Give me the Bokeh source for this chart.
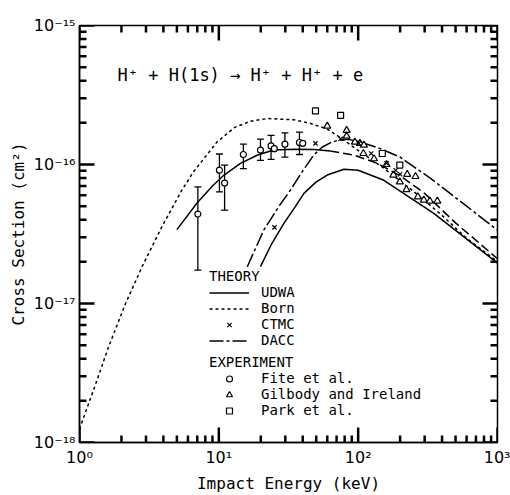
import math
from bokeh.plotting import figure
from bokeh.models import (FixedTicker, CustomJSTickFormatter, Legend,
                          LegendItem, Label)
from bokeh.embed import file_html
from bokeh.resources import INLINE

# ---------------- data ----------------
born_E = [1.0, 1.3, 1.62, 2.14, 2.82, 3.92, 5.46, 6.6, 9.7, 13, 16.9, 22.3, 34.5, 45,
          60, 79, 98, 122, 153, 250, 390, 600, 1000]
born_S = [1.25e-18, 2.6e-18, 4.9e-18, 1.0e-17, 1.85e-17, 3.6e-17, 6.6e-17, 8.9e-17,
          1.45e-16, 1.85e-16, 2.05e-16, 2.14e-16, 2.1e-16, 1.98e-16, 1.8e-16, 1.5e-16,
          1.28e-16, 1.1e-16, 9.4e-17, 6.4e-17, 4.4e-17, 2.95e-17, 2.0e-17]

# curve through the Fite data: solid part (low E) and dashed continuation (high E)
curveA_lo_E = [5.0, 7.0, 9.0, 10.9, 14.3, 19, 24.8, 35, 48, 63]
curveA_lo_S = [3.4e-17, 5.3e-17, 7.0e-17, 8.4e-17, 1.02e-16, 1.17e-16, 1.27e-16,
               1.29e-16, 1.28e-16, 1.25e-16]
curveA_hi_E = [63, 93, 137, 200, 300, 500, 1000]
curveA_hi_S = [1.25e-16, 1.17e-16, 1.02e-16, 8.3e-17, 6.2e-17, 3.8e-17, 2.1e-17]

dacc_E = [16, 21, 27, 32.7, 40, 48, 55, 63, 71, 84, 100, 116, 144, 200, 331, 607, 1000]
dacc_S = [1.84e-17, 3.37e-17, 5.0e-17, 6.55e-17, 9.0e-17, 1.17e-16, 1.33e-16, 1.43e-16,
          1.49e-16, 1.52e-16, 1.47e-16, 1.40e-16, 1.30e-16, 1.13e-16, 7.94e-17,
          4.97e-17, 3.37e-17]

udwa_E = [19.9, 24, 29.3, 35, 40.8, 50, 60, 79, 100, 153, 349, 1000]
udwa_S = [1.84e-17, 2.7e-17, 3.77e-17, 4.9e-17, 6.2e-17, 7.5e-17, 8.4e-17, 9.25e-17,
          9.1e-17, 7.7e-17, 4.45e-17, 1.95e-17]

ctmc_E = [25.1, 49.4, 74.8, 101, 124, 160, 186, 200]
ctmc_S = [3.53e-17, 1.42e-16, 1.53e-16, 1.42e-16, 1.2e-16, 1.02e-16, 9.1e-17, 8.5e-17]

nan = float("nan")
fite_E = [7.07, 10.1, 11.0, 15.0, 19.9, 23.7, 25.0, 29.8, 37.9, 40.0]
fite_S = [4.4e-17, 9.1e-17, 7.35e-17, 1.18e-16, 1.27e-16, 1.36e-16, 1.30e-16,
          1.40e-16, 1.44e-16, 1.42e-16]
fite_hi = [6.9e-17, 1.19e-16, 9.9e-17, 1.40e-16, 1.52e-16, 1.62e-16, nan,
           1.69e-16, 1.71e-16, nan]
fite_lo = [1.74e-17, 6.35e-17, 4.7e-17, 9.35e-17, 1.07e-16, 1.09e-16, nan,
           1.13e-16, 1.18e-16, nan]

gil_E = [60, 82.6, 82.6, 94.7, 103, 110, 109, 130, 160, 179, 199, 225, 258, 222,
         268, 296, 327, 370]
gil_S = [1.89e-16, 1.76e-16, 1.6e-16, 1.45e-16, 1.42e-16, 1.38e-16, 1.2e-16, 1.10e-16,
         1.0e-16, 8.4e-17, 7.5e-17, 8.5e-17, 8.2e-17, 6.6e-17, 5.86e-17, 5.55e-17,
         5.46e-17, 5.46e-17]

park_E = [49.4, 74.8, 149, 199]
park_S = [2.43e-16, 2.26e-16, 1.2e-16, 9.9e-17]

x_major = [1.0, 10.0, 100.0, 1000.0]
y_major = [1e-18, 1e-17, 1e-16, 1e-15]

reaction = "H\u207a + H(1s) \u2192 H\u207a + H\u207a + e"
x_label = "Impact Energy (keV)"
y_label = "Cross Section (cm\u00b2)"

# ---------------- figure ----------------
LABEL_FONT = "DejaVu Sans Mono"
TICK_FONT = "DejaVu Sans"
X_MIN, X_MAX = x_major[0], x_major[-1]
Y_MIN, Y_MAX = y_major[0], y_major[-1]

p = figure(width=510, height=495, x_axis_type="log", y_axis_type="log",
           x_range=(X_MIN, X_MAX), y_range=(Y_MIN, Y_MAX),
           output_backend="svg", toolbar_location=None,
           min_border_left=79, min_border_right=13, min_border_top=25,
           min_border_bottom=52)
p.xgrid.visible = False
p.ygrid.visible = False
p.outline_line_color = "black"
p.outline_line_width = 1.5
p.background_fill_color = "white"
p.border_fill_color = "white"


def minors(majors):
    out = []
    for m in majors[:-1]:
        out += [k * m for k in range(2, 10)]
    return out


x_minor = minors(x_major)
y_minor = minors(y_major)
xticker = FixedTicker(ticks=x_major, minor_ticks=x_minor)
yticker = FixedTicker(ticks=y_major, minor_ticks=y_minor)

sup_code = """
const sup = {"-":"\u207b","0":"\u2070","1":"\u00b9","2":"\u00b2","3":"\u00b3",
             "4":"\u2074","5":"\u2075","6":"\u2076","7":"\u2077","8":"\u2078","9":"\u2079"};
const e = Math.round(Math.log10(tick));
return "10" + String(e).split("").map(c => sup[c]).join("");
"""
fmt = CustomJSTickFormatter(code=sup_code)

for ax, tk in ((p.xaxis[0], xticker), (p.yaxis[0], yticker)):
    ax.ticker = tk
    ax.formatter = fmt
    ax.axis_line_color = "black"
    ax.axis_line_width = 1.5
    ax.major_tick_in = 0
    ax.major_tick_out = 0
    ax.minor_tick_in = 0
    ax.minor_tick_out = 0
    ax.major_label_text_font = TICK_FONT
    ax.major_label_text_font_size = "16px"
    ax.major_label_text_color = "black"
    ax.axis_label_text_font = LABEL_FONT
    ax.axis_label_text_font_size = "16px"
    ax.axis_label_text_font_style = "normal"
    ax.axis_label_text_color = "black"

p.xaxis[0].axis_label = x_label
p.yaxis[0].axis_label = y_label
p.xaxis[0].major_label_standoff = 5
p.yaxis[0].major_label_standoff = 4
p.xaxis[0].axis_label_standoff = 4
p.yaxis[0].axis_label_standoff = 3

# ---------------- inward tick marks on all four sides ----------------
DECADE_PX = 139.3          # pixels per decade on both axes
MAJ = 10 ** (15 / DECADE_PX)
MNR = 10 ** (7 / DECADE_PX)
tick_x0, tick_y0, tick_x1, tick_y1 = [], [], [], []
for ticks, f in ((x_major, MAJ), (x_minor, MNR)):
    for t in ticks:
        tick_x0 += [t, t]
        tick_x1 += [t, t]
        tick_y0 += [Y_MIN, Y_MAX]
        tick_y1 += [Y_MIN * f, Y_MAX / f]
for ticks, f in ((y_major, MAJ), (y_minor, MNR)):
    for t in ticks:
        tick_x0 += [X_MIN, X_MAX]
        tick_x1 += [X_MIN * f, X_MAX / f]
        tick_y0 += [t, t]
        tick_y1 += [t, t]
p.segment(x0=tick_x0, y0=tick_y0, x1=tick_x1, y1=tick_y1,
          line_color="#000000", line_width=2.5)

# ---------------- curves ----------------
LW = 1.5
r_born = p.line(born_E, born_S, line_color="black", line_width=LW, line_dash="3 3")
p.line(curveA_lo_E, curveA_lo_S, line_color="black", line_width=LW)
p.line(curveA_hi_E, curveA_hi_S, line_color="black", line_width=LW, line_dash="9 4")
r_dacc = p.line(dacc_E, dacc_S, line_color="black", line_width=LW,
                line_dash="14 3 3 3")
r_udwa = p.line(udwa_E, udwa_S, line_color="black", line_width=LW)

# ---------------- experimental data ----------------
p.segment(x0=fite_E, y0=fite_lo, x1=fite_E, y1=fite_hi, line_color="black",
          line_width=1.3)
p.scatter(fite_E, fite_hi, marker="dash", size=7, line_color="black", line_width=1.3)
p.scatter(fite_E, fite_lo, marker="dash", size=7, line_color="black", line_width=1.3)
r_fite = p.scatter(fite_E, fite_S, marker="circle", size=6, line_color="black",
                   fill_color="white", line_width=1.2)
r_gil = p.scatter(gil_E, gil_S, marker="triangle", size=7, line_color="black",
                  fill_color="white", line_width=1.2)
r_park = p.scatter(park_E, park_S, marker="square", size=6, line_color="black",
                   fill_color="white", line_width=1.2)
r_ctmc = p.scatter(ctmc_E, ctmc_S, marker="x", size=6, line_color="black",
                   line_width=1.2)

# ---------------- legends ----------------


def make_legend(title, items, loc):
    lg = Legend(title=title, items=items, location=loc)
    lg.title_text_font = LABEL_FONT
    lg.title_text_font_size = "14px"
    lg.title_text_font_style = "normal"
    lg.title_text_color = "black"
    lg.title_standoff = 0
    lg.label_text_font = LABEL_FONT
    lg.label_text_font_size = "14px"
    lg.label_text_color = "black"
    lg.background_fill_alpha = 0
    lg.border_line_alpha = 0
    lg.padding = 0
    lg.margin = 0
    lg.spacing = -1
    lg.label_height = 15
    lg.glyph_height = 15
    lg.glyph_width = 40
    lg.label_standoff = 12
    return lg


leg_theory = make_legend("THEORY", [
    LegendItem(label="UDWA", renderers=[r_udwa]),
    LegendItem(label="Born", renderers=[r_born]),
    LegendItem(label="CTMC", renderers=[r_ctmc]),
    LegendItem(label="DACC", renderers=[r_dacc]),
], (130, 94))
leg_exp = make_legend("EXPERIMENT", [
    LegendItem(label="Fite et al.", renderers=[r_fite]),
    LegendItem(label="Gilbody and Ireland", renderers=[r_gil]),
    LegendItem(label="Park et al.", renderers=[r_park]),
], (130, 24))
p.add_layout(leg_theory)
p.add_layout(leg_exp)

p.add_layout(Label(x=38, y=368, x_units="screen", y_units="screen", text=reaction,
                   text_font=LABEL_FONT, text_font_size="17px",
                   text_baseline="middle", text_color="black"))

open("out.html", "w").write(file_html(p, INLINE))
